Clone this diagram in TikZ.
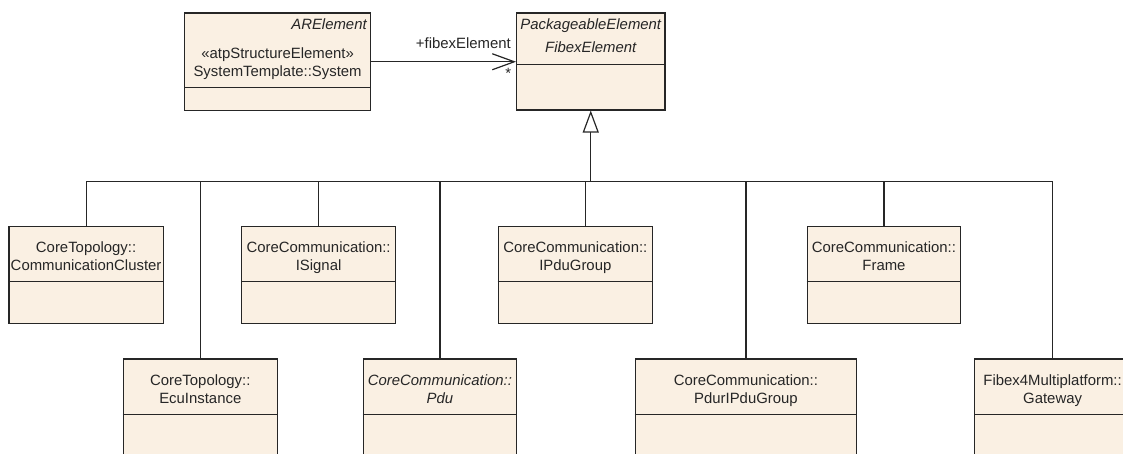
\documentclass[tikz,border=0pt]{standalone}
\usepackage{fontspec}
\setmainfont{Liberation Sans}
\usetikzlibrary{arrows.meta,calc}

\definecolor{boxfill}{HTML}{FAF0E3}
\definecolor{ink}{HTML}{262626}

\tikzset{
  cls/.style={draw=ink, fill=boxfill, line width=1.2pt, inner sep=0pt, anchor=north west},
  divider/.style={draw=ink, line width=1.2pt},
  txt/.style={inner sep=0pt, align=center, anchor=base, text=ink,
    font=\fontsize{14.9}{18}\selectfont},
  edge/.style={draw=ink, line width=1.2pt},
  gen/.style={edge, -{Triangle[open, length=22pt, width=16pt, line width=1.2pt]}},
  assoc/.style={edge, -{Straight Barb[length=22pt, width=16pt, line width=1.2pt]}},
}

% #1 name, #2 left, #3 top, #4 width, #5 height, #6 header height,
% #7 baseline of the last text line below the top, #8 text
\newcommand\umlclass[8]{%
  \node[cls, minimum width=#4pt, minimum height=#5pt] (#1) at (#2,#3) {};
  \draw[divider] ([yshift=-#6pt]#1.north west) -- ([yshift=-#6pt]#1.north east);
  \node[txt] (#1-name) at ([yshift=-#7pt]#1.north) {#8};
}

\begin{document}
\begin{tikzpicture}[x=1pt, y=-1pt]
\useasboundingbox (0,0) rectangle (1123,453);
\clip (0,0) rectangle (1123,453);

% top row
\umlclass{sys}{184}{12.3}{186}{97.7}{75}{63.7}{«atpStructureElement»\\SystemTemplate::System}
\node[txt, anchor=base east] (sys-tag) at ([xshift=-4.3pt, yshift=-17.1pt]sys.north east) {\itshape ARElement};

\umlclass{fibex}{516}{12.3}{148.3}{97}{52.4}{40.4}{\itshape FibexElement}
\node[txt] (fibex-tag) at ([yshift=-17.1pt]fibex.north) {\itshape PackageableElement};

% specialisations, first row
\umlclass{cc}{8.3}{225.7}{154.4}{97}{56}{45}{CoreTopology::\\CommunicationCluster}
\umlclass{sig}{241}{225.7}{154}{97}{56}{45}{CoreCommunication::\\ISignal}
\umlclass{ipg}{497.7}{225.7}{154}{97}{56}{45}{CoreCommunication::\\IPduGroup}
\umlclass{frm}{806.7}{225.7}{153.3}{97}{56}{45}{CoreCommunication::\\Frame}

% specialisations, second row
\umlclass{ecu}{122.7}{358.3}{154}{120}{56}{45}{CoreTopology::\\EcuInstance}
\umlclass{pdu}{362.7}{358.3}{153.3}{120}{56}{45}{\itshape CoreCommunication::\\\itshape Pdu}
\umlclass{pig}{634.7}{358.3}{221.3}{120}{56}{45}{CoreCommunication::\\PdurIPduGroup}
\umlclass{gw}{974}{358.3}{156}{120}{56}{45}{Fibex4Multiplatform::\\Gateway}

% association
\draw[assoc] (sys.east) -- (sys.east -| fibex.west);
\node[txt, anchor=base east] (role) at ([xshift=-5pt, yshift=-36.2pt]fibex.north west) {+fibexElement};
\node[txt, anchor=center] (mult) at ([xshift=-7.7pt, yshift=-60.7pt]fibex.north west) {*};

% generalisation tree
\coordinate (hub) at (fibex.south |- 0,181.5);
\coordinate (ipg-top) at ([xshift=10.3pt]ipg.north);
\draw[gen] (hub) -- (fibex.south);
\draw[edge] (hub -| cc.north) -- (hub -| gw.north);
\foreach \c in {cc, sig, frm, ecu, pdu, pig, gw}
  \draw[edge] (hub -| \c.north) -- (\c.north);
\draw[edge] (hub -| ipg-top) -- (ipg-top);
\end{tikzpicture}
\end{document}
